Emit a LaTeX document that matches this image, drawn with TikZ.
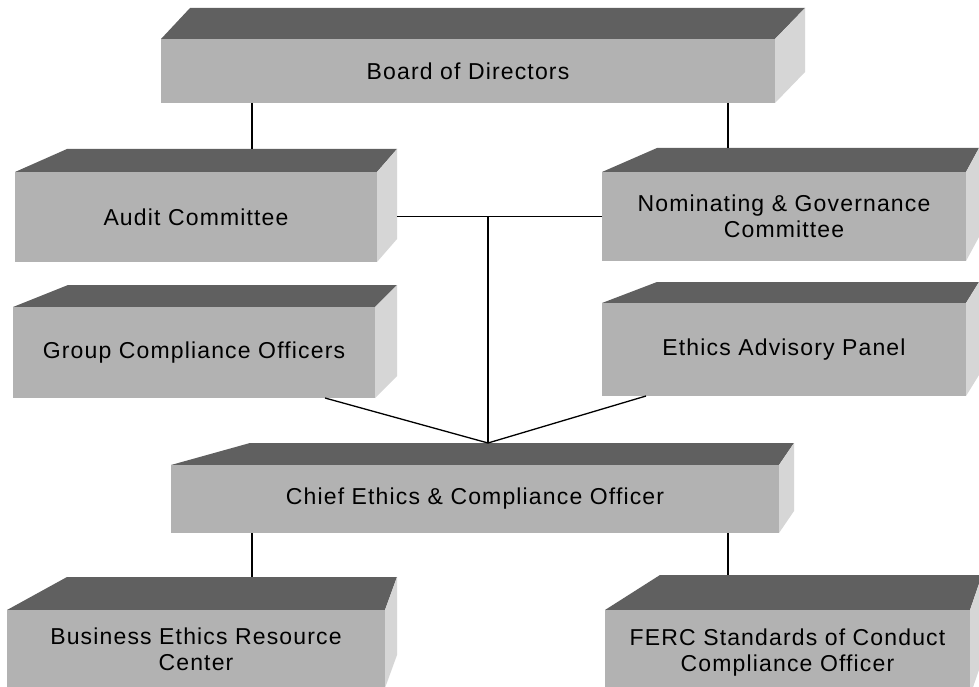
\documentclass[tikz,border=0pt]{standalone}
\usepackage{fontspec}
\setmainfont{Liberation Sans}[LetterSpace=5]
\definecolor{frontgray}{HTML}{B2B2B2}
\definecolor{topgray}{HTML}{606060}
\definecolor{sidegray}{HTML}{D6D6D6}
\tikzset{
  frontface/.style={fill=frontgray, draw=none, inner sep=0pt, outer sep=0pt, align=center,
    font=\fontsize{23}{26}\selectfont, text=black},
  topface/.style={fill=topgray},
  sideface/.style={fill=sidegray},
  conn/.style={draw=black, line width=1.3pt}
}
% name, x1, x2, ytop, ybot, dxL, dxR, dy, text
\newcommand{\cubebox}[9]{%
  \fill[topface] (#2,#4) -- ({#2+#6},{#4-#8}) -- ({#3+#7},{#4-#8}) -- (#3,#4) -- cycle;
  \fill[sideface] (#3,#4) -- ({#3+#7},{#4-#8}) -- ({#3+#7},{#5-#8}) -- (#3,#5) -- cycle;
  \node[frontface, minimum width={(#3-#2)*1pt}, minimum height={(#5-#4)*1pt}] (#1)
    at ({(#2+#3)/2},{(#4+#5)/2}) {#9};
  \coordinate (#1-tb) at ({(#2+#3+#6+#7)/2},{#4-#8});
  \coordinate (#1-re) at ({#3+#7},{(#4+#5)/2});
}
\begin{document}
\begin{tikzpicture}[x=1pt,y=-1pt]
  \useasboundingbox (0,0) rectangle (979,687);
  \clip (0,0) rectangle (979,687);
  \fill[white] (0,0) rectangle (979,687);

  \cubebox{board}{161}{775}{39}{103}{29}{30}{31}{Board of Directors}
  \cubebox{audit}{15}{377}{172}{262}{52}{20}{23}{Audit Committee}
  \cubebox{nomgov}{602}{966}{172}{261}{55}{13}{24}{Nominating \& Governance\\Committee}
  \cubebox{group}{13}{375}{307}{398}{55}{22}{22}{Group Compliance Officers}
  \cubebox{ethics}{602}{966}{303}{396}{55}{13}{21}{Ethics Advisory Panel}
  \cubebox{chief}{171}{779}{465}{533}{79}{15}{22}{Chief Ethics \& Compliance Officer}
  \cubebox{business}{7}{385}{610}{688}{60}{12}{33}{Business Ethics Resource\\Center}
  \cubebox{ferc}{605}{970}{610}{696}{55}{12}{35}{FERC Standards of Conduct\\Compliance Officer}

  \coordinate (L) at (252,0);
  \coordinate (R) at (728,0);
  \coordinate (M) at (488,0);

  \draw[conn] (board.south -| L) -- (L |- audit-tb);
  \draw[conn] (board.south -| R) -- (R |- nomgov-tb);
  \draw[conn] (audit-re |- nomgov.west) -- (nomgov.west);
  \draw[conn] (M |- nomgov.west) -- (M |- chief-tb);
  \draw[conn] ([xshift=-50pt]group.south east) -- (M |- chief-tb);
  \draw[conn] ([xshift=44pt]ethics.south west) -- (M |- chief-tb);
  \draw[conn] (chief.south -| L) -- (L |- business-tb);
  \draw[conn] (chief.south -| R) -- (R |- ferc-tb);
\end{tikzpicture}
\end{document}
